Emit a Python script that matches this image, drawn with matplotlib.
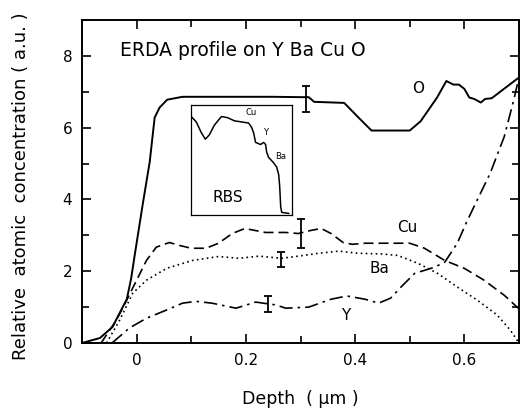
import matplotlib
matplotlib.use("Agg")
import matplotlib.pyplot as plt
from matplotlib.ticker import MultipleLocator

# ---- data ----
o_x = [-0.1, -0.067, -0.044, -0.035, -0.018, -0.01, -0.004, 0.011, 0.024, 0.033,
       0.042, 0.056, 0.084, 0.15, 0.2, 0.25, 0.3, 0.315, 0.325, 0.38, 0.405, 0.43,
       0.5, 0.52, 0.55, 0.567, 0.58, 0.59, 0.6, 0.609, 0.618, 0.63, 0.638, 0.65, 0.7]
o_y = [0.0, 0.14, 0.45, 0.72, 1.22, 1.8, 2.4, 3.85, 5.05, 6.28,
       6.56, 6.78, 6.86, 6.86, 6.86, 6.86, 6.85, 6.85, 6.72, 6.69, 6.3, 5.92,
       5.92, 6.18, 6.84, 7.3, 7.2, 7.2, 7.08, 6.84, 6.8, 6.7, 6.8, 6.82, 7.4]

cu_x = [-0.065, -0.037, -0.018, 0.0, 0.018, 0.036, 0.06, 0.078, 0.1, 0.127, 0.15, 0.175,
        0.198, 0.236, 0.273, 0.296, 0.32, 0.338, 0.356, 0.378, 0.395, 0.418, 0.455, 0.5,
        0.527, 0.564, 0.6, 0.636, 0.673, 0.7]
cu_y = [0.0, 0.64, 1.2, 1.75, 2.3, 2.67, 2.8, 2.72, 2.64, 2.64, 2.78, 3.05,
        3.19, 3.08, 3.08, 3.05, 3.14, 3.19, 3.05, 2.8, 2.75, 2.78, 2.78, 2.78,
        2.64, 2.3, 2.08, 1.75, 1.33, 0.95]

ba_x = [-0.055, -0.031, -0.007, 0.018, 0.055, 0.102, 0.15, 0.187, 0.224, 0.265, 0.296,
        0.333, 0.37, 0.405, 0.45, 0.478, 0.515, 0.551, 0.587, 0.624, 0.66, 0.684, 0.7]
ba_y = [0.0, 0.64, 1.39, 1.75, 2.08, 2.3, 2.41, 2.36, 2.42, 2.36, 2.42,
        2.5, 2.56, 2.5, 2.48, 2.44, 2.22, 1.94, 1.56, 1.19, 0.78, 0.36, 0.0]

y_x = [-0.045, -0.013, 0.018, 0.055, 0.084, 0.109, 0.138, 0.182, 0.218, 0.255, 0.273,
       0.315, 0.356, 0.385, 0.418, 0.443, 0.465, 0.484, 0.509, 0.545, 0.564, 0.587,
       0.605, 0.624, 0.647, 0.673, 0.69, 0.7]
y_y = [0.0, 0.42, 0.69, 0.92, 1.11, 1.16, 1.11, 0.97, 1.14, 1.06, 0.97,
       1.0, 1.22, 1.31, 1.22, 1.11, 1.25, 1.56, 1.94, 2.11, 2.25, 2.78,
       3.4, 4.0, 4.72, 5.75, 6.75, 7.4]

err_x = [0.31, 0.30, 0.265, 0.24]
err_y = [6.8, 3.05, 2.33, 1.08]
err_e = [0.37, 0.40, 0.20, 0.22]

labels = ["O", "Cu", "Ba", "Y"]
label_x = [0.515, 0.496, 0.445, 0.382]
label_y = [7.1, 3.22, 2.08, 0.78]

# inset RBS spectrum (arbitrary channel / yield units)
rbs_ch = [0, 5, 10, 14, 18, 23, 30, 36, 43, 50, 57, 60, 62, 64, 69, 72, 74, 75, 77,
          82, 85, 87, 88, 89, 90, 97]
rbs_yield = [89, 84, 74, 68, 72, 81, 89, 88, 85, 84, 83, 79, 74, 65, 63, 65, 63, 56, 51,
             46, 42, 35, 24, 5, 0, -1]
rbs_labels = ["Cu", "Y", "Ba"]
rbs_lab_x = [60, 74, 89]
rbs_lab_y = [93, 74, 52]

# ---- figure ----
plt.rcParams['font.family'] = ['DejaVu Sans']
fig = plt.figure(figsize=(5.23, 4.11), dpi=100)
ax = fig.add_axes([82/523, 68/411, 437/523, 323/411])

ax.plot(o_x, o_y, color='black', lw=1.4, ls='-')
ax.plot(cu_x, cu_y, color='black', lw=1.2, ls=(0, (6, 3)))
ax.plot(ba_x, ba_y, color='black', lw=1.2, ls=(0, (1, 2)))
ax.plot(y_x, y_y, color='black', lw=1.2, ls=(0, (8, 3, 1.5, 3)))

ax.errorbar(err_x, err_y, yerr=err_e, fmt='none', ecolor='black', elinewidth=1.3,
            capsize=3, capthick=1.3)

for t, lx, ly in zip(labels, label_x, label_y):
    ax.text(lx, ly, t, fontsize=11, ha='center', va='center')

ax.text(-0.031, 8.14, "ERDA profile on Y Ba Cu O", fontsize=13.5, ha='left', va='center')

ax.set_xlim(-0.1, 0.7)
ax.set_ylim(0, 9)
ax.set_xticks([0, 0.2, 0.4, 0.6])
ax.set_xticklabels(["0", "0.2", "0.4", "0.6"])
ax.set_yticks([0, 2, 4, 6, 8])
ax.xaxis.set_minor_locator(MultipleLocator(0.1))
ax.yaxis.set_minor_locator(MultipleLocator(1))
ax.tick_params(which='both', direction='in', top=True, right=True, width=1.2,
               labelsize=11, pad=7)
ax.tick_params(which='major', length=6.5)
ax.tick_params(which='minor', length=5)
for s in ax.spines.values():
    s.set_linewidth(1.4)

ax.set_xlabel("Depth  ( μm )", fontsize=12.5, labelpad=16)
ax.set_ylabel("Relative  atomic  concentration ( a.u. )", fontsize=13)
ax.yaxis.set_label_coords(-0.119, 0.485)

# inset
ins = ax.inset_axes([0.1, 3.58, 0.184, 3.06], transform=ax.transData)
ins.plot(rbs_ch, rbs_yield, color='black', lw=1.1)
ins.set_xlim(0, 100)
ins.set_ylim(-2, 100)
ins.set_xticks([])
ins.set_yticks([])
for s in ins.spines.values():
    s.set_linewidth(0.9)
for t, lx, ly in zip(rbs_labels, rbs_lab_x, rbs_lab_y):
    ins.text(lx, ly, t, fontsize=6, ha='center', va='center')
ins.text(36, 14, "RBS", fontsize=11, ha='center', va='center')

fig.savefig("out.png", dpi=100)
